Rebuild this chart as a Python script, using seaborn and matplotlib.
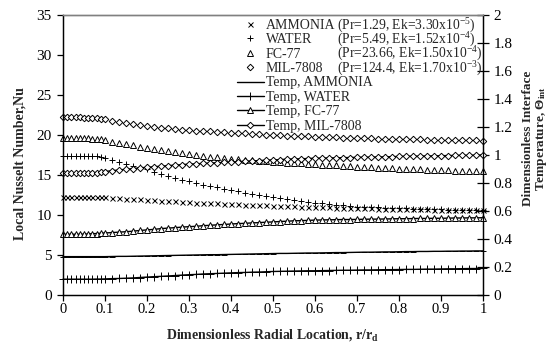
import matplotlib
matplotlib.use('Agg')
import matplotlib.pyplot as plt
import seaborn as sns
from matplotlib.ticker import FuncFormatter, MultipleLocator

# ---------------- data ----------------
r = [0.00, 0.01, 0.02, 0.03, 0.04, 0.05, 0.06, 0.07, 0.08, 0.09,
     0.100, 0.117, 0.133, 0.150, 0.167, 0.183, 0.200, 0.217, 0.233, 0.250,
     0.267, 0.283, 0.300, 0.317, 0.333, 0.350, 0.367, 0.383, 0.400, 0.417,
     0.433, 0.450, 0.467, 0.483, 0.500, 0.517, 0.533, 0.550, 0.567, 0.583,
     0.600, 0.617, 0.633, 0.650, 0.667, 0.683, 0.700, 0.717, 0.733, 0.750,
     0.767, 0.783, 0.800, 0.817, 0.833, 0.850, 0.867, 0.883, 0.900, 0.917,
     0.933, 0.950, 0.967, 0.983, 1.000]

nu_ammonia = [12.30, 12.30, 12.30, 12.30, 12.29, 12.29, 12.28, 12.27, 12.26, 12.24,
              12.20, 12.15, 12.10, 12.05, 12.00, 11.95, 11.90, 11.85, 11.80, 11.75,
              11.70, 11.65, 11.60, 11.56, 11.52, 11.48, 11.44, 11.40, 11.36, 11.33,
              11.30, 11.27, 11.24, 11.21, 11.18, 11.15, 11.12, 11.09, 11.06, 11.03,
              11.00, 10.98, 10.95, 10.93, 10.91, 10.89, 10.87, 10.85, 10.83, 10.81,
              10.79, 10.77, 10.76, 10.74, 10.73, 10.71, 10.70, 10.68, 10.67, 10.66,
              10.65, 10.63, 10.62, 10.61, 10.60]
nu_water = [17.40, 17.40, 17.40, 17.40, 17.40, 17.39, 17.38, 17.36, 17.32, 17.26,
            17.15, 16.90, 16.60, 16.40, 16.15, 15.95, 15.70, 15.40, 15.10, 14.85,
            14.60, 14.40, 14.20, 14.00, 13.80, 13.62, 13.45, 13.28, 13.10, 12.95,
            12.80, 12.65, 12.50, 12.35, 12.20, 12.10, 12.00, 11.88, 11.75, 11.65,
            11.55, 11.45, 11.35, 11.28, 11.20, 11.12, 11.05, 11.01, 10.98, 10.95,
            10.92, 10.88, 10.85, 10.82, 10.79, 10.76, 10.74, 10.72, 10.70, 10.68,
            10.67, 10.65, 10.63, 10.62, 10.60]
nu_fc77 = [19.60, 19.60, 19.60, 19.60, 19.60, 19.59, 19.57, 19.54, 19.50, 19.45,
           19.35, 19.18, 19.00, 18.85, 18.70, 18.55, 18.40, 18.25, 18.10, 17.97,
           17.85, 17.72, 17.60, 17.50, 17.40, 17.30, 17.20, 17.10, 17.00, 16.95,
           16.90, 16.85, 16.78, 16.72, 16.65, 16.60, 16.55, 16.50, 16.45, 16.40,
           16.35, 16.30, 16.25, 16.20, 16.15, 16.10, 16.05, 16.00, 15.95, 15.90,
           15.87, 15.83, 15.80, 15.77, 15.73, 15.70, 15.67, 15.63, 15.60, 15.57,
           15.53, 15.50, 15.48, 15.46, 15.45]
nu_mil = [22.20, 22.20, 22.20, 22.20, 22.20, 22.18, 22.16, 22.13, 22.08, 22.02,
          21.95, 21.78, 21.60, 21.48, 21.35, 21.22, 21.10, 21.00, 20.90, 20.82,
          20.75, 20.68, 20.60, 20.55, 20.50, 20.45, 20.40, 20.35, 20.30, 20.25,
          20.20, 20.15, 20.10, 20.05, 20.00, 19.97, 19.93, 19.90, 19.87, 19.83,
          19.80, 19.77, 19.73, 19.70, 19.67, 19.63, 19.60, 19.58, 19.57, 19.55,
          19.53, 19.52, 19.50, 19.48, 19.47, 19.45, 19.43, 19.42, 19.40, 19.38,
          19.37, 19.35, 19.33, 19.32, 19.30]

t_ammonia = [0.274, 0.274, 0.274, 0.274, 0.274, 0.274, 0.274, 0.274, 0.274, 0.274,
             0.274, 0.275, 0.276, 0.276, 0.277, 0.278, 0.279, 0.280, 0.281, 0.282,
             0.283, 0.284, 0.285, 0.286, 0.287, 0.288, 0.288, 0.289, 0.290, 0.291,
             0.292, 0.293, 0.294, 0.295, 0.296, 0.297, 0.297, 0.298, 0.299, 0.300,
             0.300, 0.301, 0.302, 0.303, 0.303, 0.304, 0.305, 0.306, 0.306, 0.307,
             0.308, 0.308, 0.309, 0.310, 0.310, 0.311, 0.311, 0.312, 0.312, 0.313,
             0.313, 0.314, 0.314, 0.315, 0.315]
t_water = [0.113, 0.113, 0.113, 0.113, 0.113, 0.113, 0.113, 0.113, 0.114, 0.114,
           0.115, 0.117, 0.118, 0.120, 0.122, 0.125, 0.128, 0.131, 0.133, 0.136,
           0.139, 0.142, 0.145, 0.147, 0.150, 0.152, 0.154, 0.156, 0.158, 0.160,
           0.161, 0.163, 0.164, 0.166, 0.168, 0.169, 0.170, 0.171, 0.172, 0.173,
           0.173, 0.174, 0.175, 0.176, 0.177, 0.177, 0.178, 0.179, 0.179, 0.180,
           0.181, 0.181, 0.182, 0.183, 0.183, 0.184, 0.185, 0.185, 0.186, 0.187,
           0.187, 0.188, 0.189, 0.189, 0.190]
t_fc77 = [0.434, 0.434, 0.434, 0.434, 0.434, 0.435, 0.436, 0.438, 0.439, 0.441,
          0.443, 0.446, 0.449, 0.452, 0.456, 0.461, 0.465, 0.469, 0.474, 0.478,
          0.481, 0.485, 0.488, 0.491, 0.495, 0.498, 0.501, 0.504, 0.507, 0.510,
          0.512, 0.515, 0.517, 0.520, 0.522, 0.525, 0.527, 0.530, 0.531, 0.533,
          0.535, 0.536, 0.537, 0.538, 0.539, 0.539, 0.540, 0.541, 0.542, 0.542,
          0.543, 0.544, 0.545, 0.545, 0.546, 0.547, 0.547, 0.548, 0.548, 0.549,
          0.550, 0.550, 0.551, 0.551, 0.552]
t_mil = [0.869, 0.869, 0.869, 0.869, 0.869, 0.870, 0.871, 0.873, 0.875, 0.878,
         0.882, 0.888, 0.893, 0.898, 0.903, 0.908, 0.912, 0.916, 0.920, 0.924,
         0.928, 0.931, 0.935, 0.937, 0.940, 0.942, 0.945, 0.947, 0.950, 0.953,
         0.955, 0.958, 0.960, 0.963, 0.965, 0.967, 0.970, 0.972, 0.973, 0.975,
         0.977, 0.978, 0.979, 0.980, 0.981, 0.982, 0.983, 0.984, 0.985, 0.986,
         0.987, 0.988, 0.990, 0.991, 0.991, 0.992, 0.993, 0.994, 0.995, 0.996,
         0.997, 0.998, 0.998, 0.999, 1.000]

fluids = ['AMMONIA', 'WATER', 'FC-77', 'MIL-7808']
params = [r'(Pr=1.29, Ek=3.30x10$^{-5}$)', r'(Pr=5.49, Ek=1.52x10$^{-4}$)',
          r'(Pr=23.66, Ek=1.50x10$^{-4}$)', r'(Pr=124.4, Ek=1.70x10$^{-3}$)']
x_ticks = [0, 0.1, 0.2, 0.3, 0.4, 0.5, 0.6, 0.7, 0.8, 0.9, 1]

# ---------------- style ----------------
sns.set_theme(style='white')
plt.rcParams['font.family'] = ['Liberation Serif', 'DejaVu Serif']
plt.rcParams['mathtext.fontset'] = 'custom'
plt.rcParams['mathtext.rm'] = 'Liberation Serif'
plt.rcParams['mathtext.it'] = 'Liberation Serif:italic'
plt.rcParams['mathtext.bf'] = 'Liberation Serif:bold'

W, H = 551, 351
fig = plt.figure(figsize=(W / 100, H / 100), dpi=100)
L, R, T, B = 63, 483, 15, 295
ax = fig.add_axes([L / W, (H - B) / H, (R - L) / W, (B - T) / H])
ax2 = ax.twinx()

nu_series = [nu_ammonia, nu_water, nu_fc77, nu_mil]
t_series = [t_ammonia, t_water, t_fc77, t_mil]
nu_mk = [('x', 3.6), ('+', 4.6), ('^', 4.0), ('D', 3.3)]
t_mk = [('_', 5.0), ('+', 6.0), ('^', 4.0), ('D', 3.3)]

for name, ys, (m, ms) in zip(fluids, nu_series, nu_mk):
    sns.lineplot(x=r, y=ys, ax=ax, linestyle='none', marker=m, markersize=ms,
                 markerfacecolor='white' if m in ('^', 'D') else 'black',
                 markeredgecolor='black', markeredgewidth=0.7, color='black',
                 label=name, legend=False, clip_on=False)
for name, ys, (m, ms) in zip(fluids, t_series, t_mk):
    sns.lineplot(x=r, y=ys, ax=ax2, linestyle='-', linewidth=1.0, marker=m,
                 markersize=ms,
                 markerfacecolor='white' if m in ('^', 'D') else 'black',
                 markeredgecolor='black', markeredgewidth=0.7, color='black',
                 label='Temp, ' + name, legend=False, clip_on=False)

ax.set_xlim(0, 1)
ax.set_ylim(0, 35)
ax2.set_ylim(0, 2)
ax.set_xticks(x_ticks)
ax.yaxis.set_major_locator(MultipleLocator(5))
ax2.yaxis.set_major_locator(MultipleLocator(0.2))
fmt = FuncFormatter(lambda v, p: f'{v:g}')
ax.xaxis.set_major_formatter(fmt)
ax2.yaxis.set_major_formatter(fmt)

for a in (ax, ax2):
    for s in ('left', 'bottom', 'right'):
        a.spines[s].set_color('black')
        a.spines[s].set_linewidth(0.9)
    a.spines['top'].set_color('#808080')
    a.spines['top'].set_linewidth(1.0)

ax.tick_params(axis='y', which='major', direction='out', length=4, width=0.9,
               labelsize=11, colors='black', pad=4, left=True, right=False)
ax.tick_params(axis='x', which='major', direction='out', length=4, width=0.9,
               labelsize=10.5, colors='black', pad=2, bottom=True)
ax2.tick_params(axis='y', direction='inout', length=9, width=0.9, labelsize=11,
                colors='black', pad=3)

ax.set_xlabel(r'Dimensionless Radial Location, r/r$_{\mathbf{d}}$',
              fontsize=10, fontweight='bold', labelpad=8)
ax.set_ylabel('Local Nusselt Number,Nu', fontsize=10, fontweight='bold')
ax.yaxis.set_label_coords(-0.088, 0.47)
ax2.set_ylabel('Dimensionless Interface\n' + r'Temperature, $\mathbf{\Theta_{int}}$',
               fontsize=9.5, fontweight='bold', rotation=90, linespacing=1.0)
ax2.yaxis.set_label_coords(1.093, 0.56)

h1, l1 = ax.get_legend_handles_labels()
h2, l2 = ax2.get_legend_handles_labels()
leg = ax2.legend(h1 + h2, l1 + l2, loc='upper left', bbox_to_anchor=(0.414, 0.986),
                 frameon=False, fontsize=10, handlelength=1.95, handletextpad=0.12,
                 labelspacing=0.1, borderpad=0, borderaxespad=0, numpoints=1)

fig.canvas.draw()
rend = fig.canvas.get_renderer()
for txt, p in zip(leg.get_texts()[:4], params):
    bb = txt.get_window_extent(rend)
    yc = (bb.y0 + bb.y1) / 2
    fig.text(337 / W, yc / fig.bbox.height, p, fontsize=9.8, va='center', ha='left')

fig.savefig('out.png', dpi=100)
